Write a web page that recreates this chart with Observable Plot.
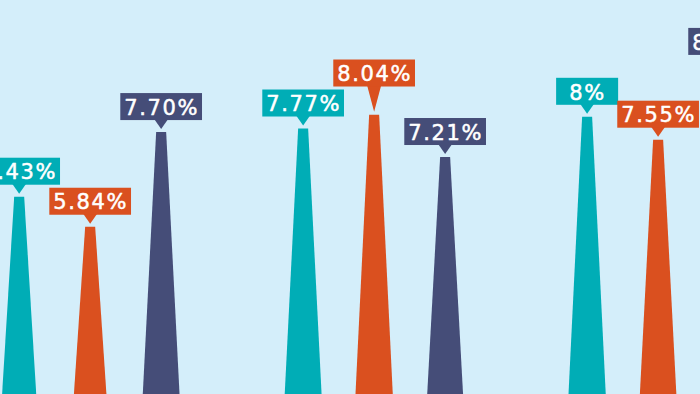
<!DOCTYPE html>
<html>
<head>
<meta charset="utf-8">
<script src="https://cdn.jsdelivr.net/npm/d3@7"></script>
<script src="https://cdn.jsdelivr.net/npm/@observablehq/plot@0.6"></script>
<style>
  html, body { margin: 0; padding: 0; background: #d4eefa; }
  #chart { width: 700px; height: 394px; overflow: hidden; }
  #chart svg text { letter-spacing: 1.6px; }
</style>
</head>
<body>
<div id="chart"></div>
<script>
// Rates per period, one array per series (label text as printed on the callouts)
const periods = ["Period 1", "Period 2", "Period 3"];
const seriesNames = ["Series A", "Series B", "Series C"];
const seriesALabels = ["6.43%", "7.77%", "8%"];
const seriesBLabels = ["5.84%", "8.04%", "7.55%"];
const seriesCLabels = ["7.70%", "7.21%", "8.98%"];
const seriesColors = ["#00adb6", "#da501f", "#454d78"];

const W = 700, H = 394;
const FONT = "DejaVu Sans";
const FONT_SIZE = 21;
const LETTER_SPACING = 1.6;

// Scales: each period holds three slots plus one empty slot
const xDomain = [-0.27, 9.59];
const yDomain = [0, 10];
const yRange = [524, 15];
const xs = d3.scaleLinear(xDomain, [0, W]);
const ys = d3.scaleLinear(yDomain, yRange);
const pxX = W / (xDomain[1] - xDomain[0]);

// Bars
const bars = [];
[seriesALabels, seriesBLabels, seriesCLabels].forEach((labels, s) => {
  labels.forEach((label, g) => {
    bars.push({
      id: `${periods[g]}|${seriesNames[s]}`,
      series: seriesNames[s],
      slot: g * 4 + s,
      label,
      value: parseFloat(label)
    });
  });
});
bars.sort((a, b) => a.slot - b.slot);

// Tapered spike outline: wide base, narrow flat top
const baseHalf = 25 / pxX, topHalf = 5 / pxX;
const spikes = bars.flatMap(d => [
  {id: d.id, series: d.series, y: 0, x1: d.slot - baseHalf, x2: d.slot + baseHalf},
  {id: d.id, series: d.series, y: d.value, x1: d.slot - topHalf, x2: d.slot + topHalf}
]);

// Callout boxes, nudged upward when they would collide with an earlier one
const ctx = document.createElement("canvas").getContext("2d");
ctx.font = `${FONT_SIZE}px "${FONT}"`;
const BOX_H = 27, GAP = 12, TIP = 3, POINTER_HALF = 7, TOL = 3;
const placed = [];
const callouts = bars.map(d => {
  const cx = xs(d.slot);
  const top = ys(d.value);
  const tw = ctx.measureText(d.label).width + LETTER_SPACING * d.label.length;
  const bw = Math.max(62, tw + 7);
  let bottom = top - GAP;
  let moved = true;
  while (moved) {
    moved = false;
    for (const p of placed) {
      const overlapX = cx - bw / 2 < p.right - TOL && cx + bw / 2 > p.left + TOL;
      const overlapY = bottom > p.top && bottom - BOX_H < p.bottom;
      if (overlapX && overlapY) { bottom = p.top - 3; moved = true; }
    }
  }
  const box = {left: cx - bw / 2, right: cx + bw / 2, top: bottom - BOX_H, bottom};
  placed.push(box);
  return {
    ...d,
    x1: xs.invert(box.left), x2: xs.invert(box.right),
    y1: ys.invert(box.bottom), y2: ys.invert(box.top),
    ty: ys.invert(bottom - BOX_H / 2 + 1),
    pointer: [
      {id: d.id, series: d.series, y: ys.invert(bottom - 1),
       x1: xs.invert(cx - POINTER_HALF), x2: xs.invert(cx + POINTER_HALF)},
      {id: d.id, series: d.series, y: ys.invert(top - TIP),
       x1: d.slot, x2: d.slot}
    ]
  };
});
const pointers = callouts.flatMap(d => d.pointer);

const chart = Plot.plot({
  width: W,
  height: H,
  margin: 0,
  style: {background: "#d4eefa"},
  x: {type: "linear", domain: xDomain, range: [0, W], axis: null},
  y: {type: "linear", domain: yDomain, range: yRange, axis: null},
  color: {domain: seriesNames, range: seriesColors},
  marks: [
    Plot.areaX(spikes, {y: "y", x1: "x1", x2: "x2", z: "id", fill: "series", curve: "linear"}),
    Plot.areaX(pointers, {y: "y", x1: "x1", x2: "x2", z: "id", fill: "series", curve: "linear"}),
    Plot.rect(callouts, {x1: "x1", x2: "x2", y1: "y1", y2: "y2", fill: "series"}),
    Plot.text(callouts, {
      x: "slot", y: "ty", text: "label", fill: "white", stroke: "white", strokeWidth: 0.5,
      fontSize: FONT_SIZE, fontFamily: FONT, textAnchor: "middle", lineAnchor: "middle"
    })
  ]
});
document.getElementById("chart").appendChild(chart);
</script>
</body>
</html>
